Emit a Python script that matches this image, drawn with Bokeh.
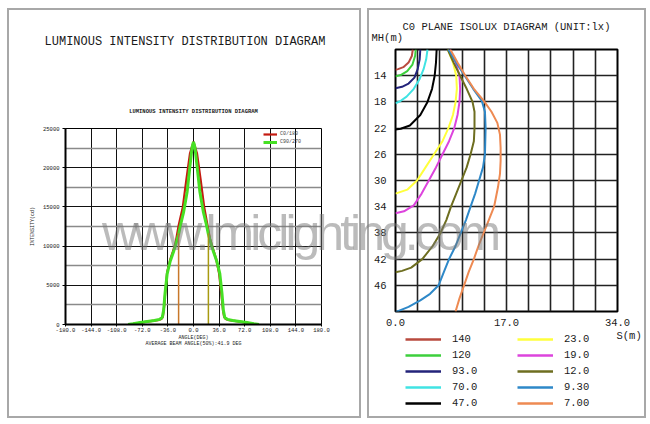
from bokeh.plotting import figure
from bokeh.layouts import row, column
from bokeh.models import (Range1d, FixedTicker, PrintfTickFormatter, Label, Legend, LegendItem,
                          Title, Div)
from bokeh.embed import file_html
from bokeh.resources import INLINE

MONO = "Liberation Mono"

# ---------------- Left chart data (luminous intensity, cd) ----------------
angle_c0 = [-90, -80, -70, -60, -50, -45, -43, -41, -40, -37, -33, -29, -25, -21, -15, -10, -5, 0,
            5, 10, 15, 19, 23, 28, 32, 36, 39, 41.5, 43, 45, 50, 60, 70, 80, 90]
cd_c0 = [0, 150, 300, 420, 550, 700, 1000, 2500, 3800, 6700, 8200, 9300, 10500, 12600, 15000, 18500, 21800, 23300,
         21800, 18500, 15000, 13000, 11000, 9500, 8300, 6500, 4000, 1800, 1000, 700, 550, 420, 300, 150, 0]
angle_c90 = [-92, -85, -75, -65, -55, -48, -44, -42, -40, -37, -33, -28, -24, -21, -18, -14, -9, -5, -2, 0,
             2, 5, 9, 14, 18, 21, 24, 28, 33, 37, 40, 42, 44, 48, 55, 65, 75, 85, 92]
cd_c90 = [0, 100, 250, 380, 500, 650, 900, 1800, 4000, 6500, 8000, 9300, 10500, 11500, 12800, 14300, 16900, 20200, 22600, 23300,
          22600, 20200, 16900, 14300, 12800, 11500, 10500, 9300, 8000, 6500, 4000, 1800, 900, 650, 500, 380, 250, 100, 0]
beam_angle = 41.9
beam_edges = [-beam_angle / 2, beam_angle / 2]
beam_level = [11650, 11650]
angle_ticks = [-180, -144, -108, -72, -36, 0, 36, 72, 108, 144, 180]
cd_ticks = [0, 5000, 10000, 15000, 20000, 25000]
cd_minor = [2500, 7500, 12500, 17500, 22500]

# ---------------- Right chart data (isolux contours, S(m) vs MH(m)) ----------------
levels = ["140", "120", "93.0", "70.0", "47.0", "23.0", "19.0", "12.0", "9.30", "7.00"]
s_140 = [2.65, 2.5, 2.0, 1.2, 0.4, 0]
mh_140 = [10, 11, 12, 12.7, 13.0, 13.1]
s_120 = [3.1, 3.0, 2.6, 1.8, 0.8, 0]
mh_120 = [10, 11, 12.3, 13.3, 13.9, 14.1]
s_93 = [3.8, 3.7, 3.4, 2.9, 2.0, 1.0, 0]
mh_93 = [10, 11.5, 13, 14.3, 15.2, 15.7, 15.9]
s_70 = [4.9, 4.7, 4.3, 3.7, 2.8, 1.7, 0.7, 0]
mh_70 = [10, 11.5, 13, 14.5, 16, 17.2, 17.9, 18.2]
s_47 = [6.3, 6.2, 6.0, 5.6, 4.9, 3.8, 2.2, 0.8, 0]
mh_47 = [10, 12, 14, 16, 18, 20, 21.6, 22.1, 22.2]
s_23 = [8.0, 8.8, 9.3, 9.4, 9.2, 8.8, 8.1, 7.2, 5.9, 4.6, 3.3, 1.8, 0]
mh_23 = [10, 12, 14, 16, 18, 20, 22, 24, 26, 28, 30, 31.4, 32.0]
s_19 = [8.3, 9.2, 9.8, 9.9, 9.8, 9.5, 9.0, 8.2, 7.2, 6.2, 5.1, 4.0, 2.8, 1.3, 0]
mh_19 = [10, 12, 14, 16, 18, 20, 22, 24, 26, 28, 30, 32, 33.8, 34.7, 35.0]
s_12 = [8.0, 8.9, 9.9, 10.9, 11.8, 12.1, 12.1, 12.0, 11.5, 10.9, 10.1, 9.3, 8.5, 7.8, 6.9, 5.7, 4.1, 2.4, 1.0, 0]
mh_12 = [10, 12, 14, 16, 18, 19.5, 22, 24, 26, 28, 30, 32, 34, 36, 38, 40, 42, 43.3, 43.8, 44.0]
s_9 = [8.1, 9.3, 10.6, 11.9, 13.2, 13.7, 13.8, 13.7, 13.4, 12.8, 12.2, 11.5, 10.8, 10.0, 9.2, 8.2, 7.4, 6.6, 5.3, 3.8, 2.0, 0]
mh_9 = [10, 12, 14, 16, 17.8, 19.5, 22, 26, 28, 30, 32, 34, 36, 38, 40, 42, 44, 46, 47.3, 48.3, 49.3, 50.1]
s_7 = [8.4, 9.5, 10.7, 12.0, 13.5, 14.7, 15.6, 16.0, 16.1, 16.1, 16.0, 15.7, 15.1, 14.3, 13.5, 12.7, 12.0, 11.2, 10.5, 9.8, 9.2]
mh_7 = [10, 12, 14, 16, 17.8, 19.5, 21.2, 23, 25, 27, 29, 31, 34, 36, 38, 40, 42, 44, 46, 48, 50]
s_label_ticks = [0, 17, 34]
s_grid = [3.4, 6.8, 10.2, 13.6, 17.0, 20.4, 23.8, 27.2, 30.6]
mh_ticks = [14, 18, 22, 26, 30, 34, 38, 42, 46]

contour_s = [s_140, s_120, s_93, s_70, s_47, s_23, s_19, s_12, s_9, s_7]
contour_mh = [mh_140, mh_120, mh_93, mh_70, mh_47, mh_23, mh_19, mh_12, mh_9, mh_7]
contour_colors = ["#B84A3E", "#3CCF3C", "#23237A", "#40E3E3", "#000000",
                  "#FFFF3C", "#DD44DD", "#6E6E20", "#2E88C8", "#EE8A52"]

FRAME_CSS = {"outline": "2px solid #a8a8a8", "outline-offset": "0px"}
TXT = "#1a1a1a"

# ======================= LEFT PANEL =======================
p1 = figure(width=350, height=406, x_range=Range1d(-180, 180), y_range=Range1d(0, 25000),
            output_backend="svg", toolbar_location=None,
            min_border_left=56, min_border_right=38, min_border_top=118, min_border_bottom=92)
p1.frame_align = False
p1.margin = (10, 0, 0, 9)
p1.styles = FRAME_CSS
p1.outline_line_color = "black"
p1.outline_line_width = 1

p1.xaxis.ticker = FixedTicker(ticks=angle_ticks)
p1.xaxis.formatter = PrintfTickFormatter(format="%.1f")
p1.xgrid.ticker = FixedTicker(ticks=angle_ticks)
yt = FixedTicker(ticks=cd_ticks, minor_ticks=cd_minor)
p1.yaxis.ticker = yt
p1.ygrid.ticker = yt
p1.yaxis.formatter = PrintfTickFormatter(format="%d")
for g in (p1.xgrid, p1.ygrid):
    g.grid_line_color = "#111111"
    g.grid_line_width = 1
    g.grid_line_alpha = 1
p1.ygrid.minor_grid_line_color = "#8a8a8a"
p1.ygrid.minor_grid_line_width = 1.5
for ax in (p1.xaxis, p1.yaxis):
    ax.axis_line_color = "black"
    ax.axis_line_width = 2
    ax.major_tick_line_color = "black"
    ax.major_tick_in = 0
    ax.minor_tick_line_color = None
    ax.major_label_text_font = MONO
    ax.major_label_text_font_size = "5.5px"
    ax.major_label_text_color = TXT
    ax.axis_label_text_font = MONO
    ax.axis_label_text_font_size = "5px"
    ax.axis_label_text_font_style = "normal"
    ax.axis_label_text_color = TXT
p1.xaxis.major_tick_out = 2
p1.yaxis.major_tick_out = 3
p1.xaxis.major_label_standoff = 1
p1.yaxis.major_label_standoff = 2
p1.xaxis.axis_label = "ANGLE(DEG)"
p1.xaxis.axis_label_standoff = 0
p1.yaxis.axis_label = "INTENSITY(cd)"
p1.yaxis.axis_label_standoff = 4

r_c0 = p1.line(angle_c0, cd_c0, line_color="#C41A10", line_width=2.2)
r_c90 = p1.line(angle_c90, cd_c90, line_color="#46E024", line_width=3)
p1.segment(x0=beam_edges, y0=[0, 0], x1=beam_edges, y1=beam_level,
           line_color=["#C8782A", "#A89A10"], line_width=1.5)

leg1 = Legend(items=[LegendItem(label="C0/180", renderers=[r_c0]),
                     LegendItem(label="C90/270", renderers=[r_c90])],
              location=(198, 178), glyph_width=14, glyph_height=8, label_height=8,
              label_standoff=3, spacing=0, padding=0, margin=0,
              label_text_font=MONO, label_text_font_size="5px",
              border_line_color=None, background_fill_alpha=0)
p1.add_layout(leg1, "center")

p1.add_layout(Title(text="LUMINOUS INTENSITY DISTRIBUTION DIAGRAM", align="center",
                    text_font=MONO, text_font_size="5.5px", text_font_style="bold",
                    text_color=TXT, standoff=27), "above")
p1.add_layout(Title(text="AVERAGE BEAM ANGLE(50%):41.9 DEG", align="center",
                    vertical_align="top",
                    text_font=MONO, text_font_size="5px", text_font_style="normal",
                    text_color=TXT, standoff=-6), "below")

# main heading of the left panel (sits well above the chart)
main_title = Div(text="LUMINOUS INTENSITY DISTRIBUTION DIAGRAM", width=354, height=14,
                 styles={"position": "absolute", "left": "3px", "top": "30px", "z-index": "5",
                         "font-family": MONO, "font-size": "12px", "line-height": "14px",
                         "color": TXT, "text-align": "center", "white-space": "nowrap"})

# ======================= RIGHT PANEL =======================
p2 = figure(width=275, height=318, x_range=Range1d(0, 34), y_range=Range1d(50, 10),
            output_backend="svg", toolbar_location=None,
            min_border_left=26, min_border_right=27, min_border_top=39, min_border_bottom=13)
p2.frame_align = False
p2.outline_line_color = "black"
p2.outline_line_width = 2

p2.xaxis.ticker = FixedTicker(ticks=s_label_ticks)
p2.xaxis.formatter = PrintfTickFormatter(format="%.1f")
p2.xgrid.ticker = FixedTicker(ticks=s_grid)
p2.yaxis.ticker = FixedTicker(ticks=mh_ticks)
p2.ygrid.ticker = FixedTicker(ticks=mh_ticks)
p2.yaxis.formatter = PrintfTickFormatter(format="%d")
for g in (p2.xgrid, p2.ygrid):
    g.grid_line_color = "#222222"
    g.grid_line_width = 1.6
    g.grid_line_alpha = 1
for ax in (p2.xaxis, p2.yaxis):
    ax.axis_line_color = None
    ax.major_tick_line_color = None
    ax.minor_tick_line_color = None
    ax.major_label_text_font = MONO
    ax.major_label_text_font_size = "10.5px"
    ax.major_label_text_color = TXT
p2.xaxis.major_label_standoff = 1
p2.yaxis.major_label_standoff = 3

for s_vals, mh_vals, col in zip(contour_s, contour_mh, contour_colors):
    p2.line(s_vals, mh_vals, line_color=col, line_width=2)

p2.add_layout(Title(text="MH(m)", align="left", offset=-24, text_font=MONO,
                    text_font_size="10.5px", text_font_style="normal", text_color=TXT,
                    standoff=11), "above")
p2.add_layout(Title(text="C0 PLANE ISOLUX DIAGRAM (UNIT:lx)", align="center", text_font=MONO,
                    text_font_size="10.5px", text_font_style="normal", text_color=TXT,
                    standoff=-16), "above")

# legend strip below the isolux chart (its own frame, so nothing is clipped)
p3 = figure(width=275, height=88, x_range=Range1d(100, 101), y_range=Range1d(100, 101),
            output_backend="svg", toolbar_location=None,
            x_axis_location=None, y_axis_location=None,
            min_border_left=0, min_border_right=0, min_border_top=0, min_border_bottom=0)
p3.frame_align = False
p3.outline_line_color = None
p3.xgrid.visible = False
p3.ygrid.visible = False
legend_renderers = []
for s_vals, mh_vals, col in zip(contour_s, contour_mh, contour_colors):
    legend_renderers.append(p3.line(s_vals, mh_vals, line_color=col, line_width=2.5))

common = dict(glyph_width=36, glyph_height=16, label_height=16, label_standoff=11,
              spacing=0, padding=0, margin=0, label_text_font=MONO,
              label_text_font_size="10.5px", label_text_color=TXT,
              border_line_color=None, background_fill_alpha=0)
leg_a = Legend(items=[LegendItem(label=levels[i], renderers=[legend_renderers[i]]) for i in range(5)],
               location=(36, 5), **common)
leg_b = Legend(items=[LegendItem(label=levels[i], renderers=[legend_renderers[i]]) for i in range(5, 10)],
               location=(148, 5), **common)
p3.add_layout(leg_a, "center")
p3.add_layout(leg_b, "center")
p3.add_layout(Label(x=247, y=81, x_units="screen", y_units="screen", text="S(m)",
                    text_font=MONO, text_font_size="10.5px", text_color=TXT,
                    text_baseline="middle"))

right = column(p2, p3, spacing=0)
right.margin = (10, 0, 0, 10)
right.styles = FRAME_CSS

wm = Div(text="www.lmiclighting.com", width=430, height=56,
         styles={"position": "absolute", "left": "97px", "top": "203px", "z-index": "10",
                 "pointer-events": "none", "font-family": "Liberation Sans",
                 "font-size": "50px", "line-height": "50px", "letter-spacing": "-4px",
                 "color": "rgba(120,120,120,0.5)", "white-space": "nowrap"})

layout = row(p1, right, main_title, wm)
open("out.html", "w").write(file_html(layout, INLINE))
